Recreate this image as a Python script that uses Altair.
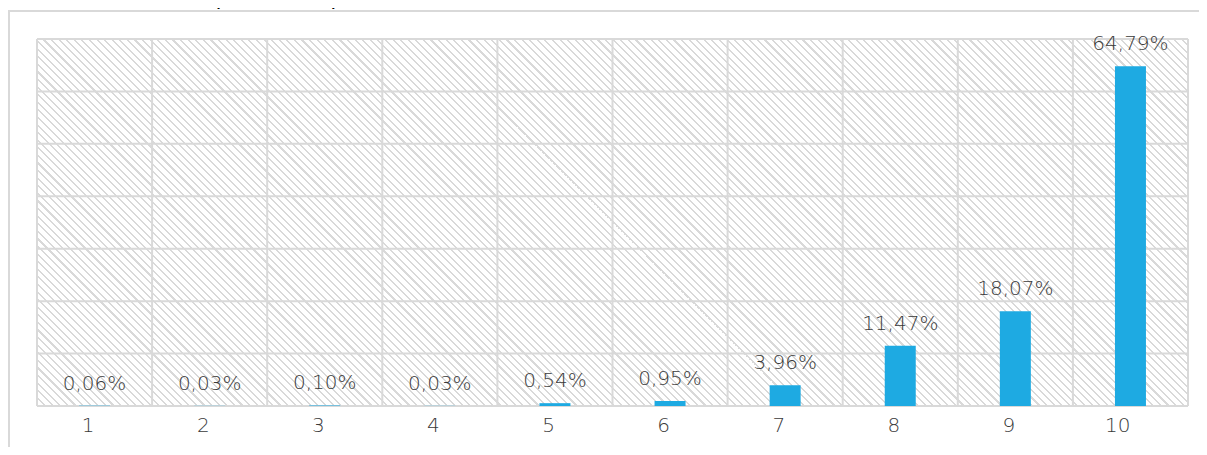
import altair as alt
import pandas as pd

# ---- data ----
notas = ["1", "2", "3", "4", "5", "6", "7", "8", "9", "10"]
percentuais = [0.06, 0.03, 0.10, 0.03, 0.54, 0.95, 3.96, 11.47, 18.07, 64.79]
rotulos = [f"{v:.2f}".replace(".", ",") + "%" for v in percentuais]
titulo_negrito = ["Gráfico 16:"]
titulo_texto = ["De 0 a 10, qual a nota que você atribui ao Natal do Bem?"]
grade_y = [0, 10, 20, 30, 40, 50, 60, 70]

df = pd.DataFrame({"nota": notas, "pct": percentuais, "rotulo": rotulos})
df_grid = pd.DataFrame({"v": grade_y})
df_t1 = pd.DataFrame({"t": titulo_negrito})
df_t2 = pd.DataFrame({"t": titulo_texto})
df_box = pd.DataFrame({"a": [0]})

W, H = 1151, 367

# diagonal hatch for the plot background, built as a striped gradient
N = 200
frac = 0.28
hatch = "#d9d9d9"
stops = []
for i in range(N):
    a = round(i / N, 6)
    b = round((i + frac) / N, 6)
    c = round((i + 1) / N, 6)
    stops += [
        alt.GradientStop(offset=a, color=hatch),
        alt.GradientStop(offset=b, color=hatch),
        alt.GradientStop(offset=b, color="#ffffff"),
        alt.GradientStop(offset=c, color="#ffffff"),
    ]
t = (W + H) / (W * W + H * H)
grad = alt.LinearGradient(gradient="linear", stops=stops, x1=0, y1=1,
                          x2=round(t * W, 6), y2=round(1 - t * H, 6))

FONT = "DejaVu Sans"
GRID = "#d9d9d9"
TXT = "#3a3a3a"
xscale = alt.Scale(paddingInner=0, paddingOuter=0)
yscale = alt.Scale(domain=[0, 70], nice=False)

x = alt.X("nota:N", sort=notas, scale=xscale,
          axis=alt.Axis(title=None, domain=False, ticks=False, tickSize=0,
                        grid=False, labelFont=FONT, labelFontSize=20,
                        labelFontWeight=200,
                        labelColor=TXT, labelPadding=19, labelAngle=0))
y = alt.Y("pct:Q", scale=yscale,
          axis=alt.Axis(title=None, labels=False, ticks=False, domain=False,
                        grid=False))

bg = alt.Chart(df_box).mark_rect(fill=grad).encode(
    x=alt.value(0), x2=alt.value(W), y=alt.value(0), y2=alt.value(H))

hgrid = alt.Chart(df_grid).mark_rule(color=GRID, strokeWidth=2).encode(
    y=alt.Y("v:Q", scale=yscale, axis=None))
vgrid = alt.Chart(df).mark_rule(color=GRID, strokeWidth=2).encode(
    x=alt.X("nota:N", sort=notas, scale=xscale, bandPosition=0))
redge = alt.Chart(df_box).mark_rule(color=GRID, strokeWidth=2).encode(
    x=alt.value(W))

base = alt.Chart(df)
bars = base.mark_bar(size=31, color="#1eaae2").encode(x=x, y=y)
labels = base.mark_text(dy=-16, baseline="alphabetic", font=FONT,
                        fontSize=20, fontWeight=200, color=TXT).encode(
    x=alt.X("nota:N", sort=notas), y="pct:Q", text="rotulo:N")

frame = alt.Chart(df_box).mark_rect(filled=False, stroke=GRID, strokeWidth=2).encode(
    x=alt.value(-28), x2=alt.value(1200), y=alt.value(-28), y2=alt.value(440))

t1 = alt.Chart(df_t1).mark_text(align="left", baseline="alphabetic",
                                font="Liberation Sans", fontSize=22,
                                fontWeight="bold", color="#000000").encode(
    x=alt.value(-58), y=alt.value(-35), text="t:N")
t2 = alt.Chart(df_t2).mark_text(align="left", baseline="alphabetic",
                                font="Liberation Sans", fontSize=22,
                                color="#000000").encode(
    x=alt.value(64), y=alt.value(-35), text="t:N")

chart = alt.layer(bg, hgrid, vgrid, redge, bars, labels, frame, t1, t2).properties(
    width=W, height=H,
    padding={"left": 29, "top": 31, "right": 11, "bottom": 41},
    autosize=alt.AutoSizeParams(type="none"),
    background="#ffffff",
).configure_view(stroke=None)

chart.save("out.html", embed_options={"renderer": "svg", "actions": False})
